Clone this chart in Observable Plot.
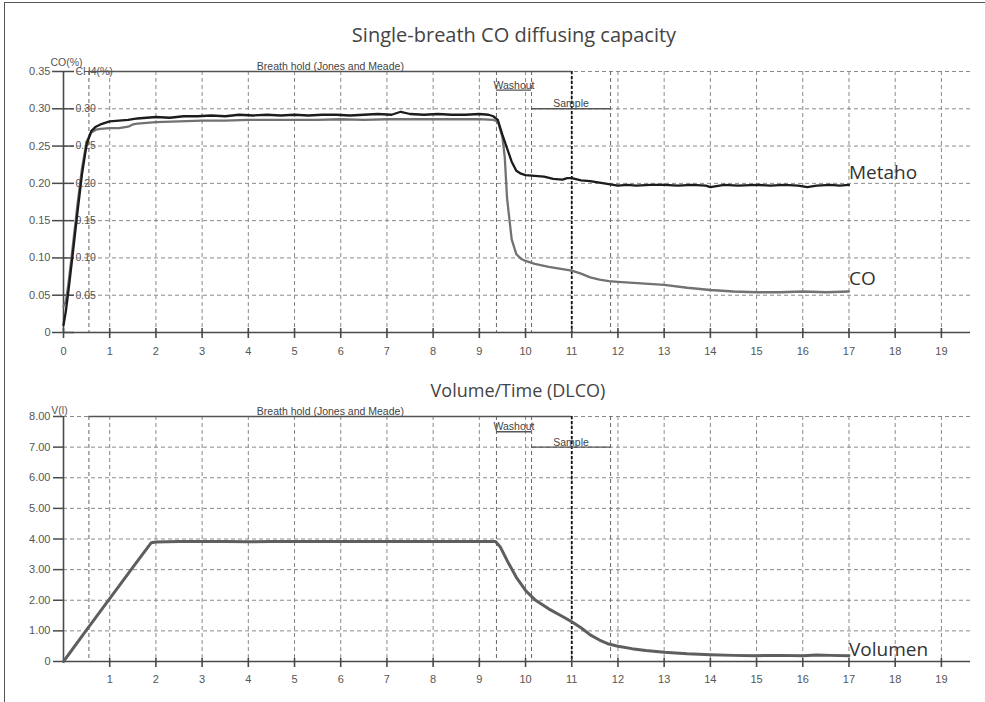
<!DOCTYPE html>
<html>
<head>
<meta charset="utf-8">
<script src="https://cdn.jsdelivr.net/npm/d3@7"></script>
<script src="https://cdn.jsdelivr.net/npm/@observablehq/plot@0.6"></script>
<style>
  html, body { margin: 0; padding: 0; background: #fff; }
  body { width: 985px; height: 702px; overflow: hidden; position: relative; font-family: "Liberation Sans", Arial, sans-serif; }
  #frame { position: absolute; left: 4px; top: 2px; width: 1000px; height: 720px; border-left: 1.5px solid #555; border-top: 1.5px solid #555; }
  .title { position: absolute; transform: translateX(-50%); white-space: nowrap; font-family: "Open Sans", sans-serif; color: #444; }
  #t1 { left: 514px; top: 25px; font-size: 20px; line-height: 20px; }
  #t2 { left: 518px; top: 381px; font-size: 18px; line-height: 18px; }
  #top { position: absolute; left: 0; top: 50px; }
  #bottom { position: absolute; left: 0; top: 400px; }
  svg { overflow: visible; }
</style>
</head>
<body>
<div id="frame"></div>
<div class="title" id="t1">Single-breath CO diffusing capacity</div>
<div class="title" id="t2">Volume/Time (DLCO)</div>
<div id="top"></div>
<div id="bottom"></div>
<script>
// ---- tick values and labels ----
const xTicksTop = [0,1,2,3,4,5,6,7,8,9,10,11,12,13,14,15,16,17,18,19];
const xTicksBottom = [1,2,3,4,5,6,7,8,9,10,11,12,13,14,15,16,17,18,19];
const xGrid = [1,2,3,4,5,6,7,8,9,10,11,12,13,14,15,16,17,18,19];
const coTicks = [0,0.05,0.10,0.15,0.20,0.25,0.30,0.35];
const coTickLabels = ["0","0.05","0.10","0.15","0.20","0.25","0.30","0.35"];
const ch4Ticks = [0.05,0.10,0.15,0.20,0.25,0.30,0.35];
const ch4TickLabels = ["0.05","0.10","0.15","0.20","0.25","0.30","CH4(%)"];
const volTicks = [0,1,2,3,4,5,6,7,8];
const volTickLabels = ["0","1.00","2.00","3.00","4.00","5.00","6.00","7.00","8.00"];

// ---- manoeuvre phases (seconds) ----
const phaseNames = ["Breath hold (Jones and Meade)", "Washout", "Sample"];
const phaseStart = [0.55, 9.37, 10.13];
const phaseEnd = [11.0, 10.13, 11.84];
const phaseLevelTop = [0.35, 0.325, 0.30];
const phaseLevelBottom = [8.0, 7.5, 7.0];
const markerLines = [0.55, 9.37, 10.13, 11.84];
const markerMain = [11.0];

// ---- series: methane (CH4 %) ----
const metT = [0,0.05,0.1,0.2,0.3,0.4,0.5,0.6,0.7,0.8,0.9,1.0,1.2,1.4,1.6,1.8,2.0,2.3,2.6,2.9,3.2,3.5,3.8,4.1,4.4,4.7,5.0,5.3,5.6,5.9,6.2,6.5,6.8,7.1,7.3,7.5,7.8,8.1,8.4,8.7,9.0,9.2,9.3,9.4,9.5,9.6,9.7,9.8,9.9,10.0,10.2,10.4,10.6,10.8,10.9,11.0,11.2,11.4,11.6,11.8,12.0,12.2,12.4,12.7,13.0,13.3,13.6,13.9,14.0,14.3,14.6,15.0,15.3,15.6,15.9,16.1,16.3,16.6,16.8,17.0];
const metV = [0.010,0.028,0.052,0.105,0.160,0.212,0.252,0.270,0.276,0.279,0.281,0.283,0.284,0.285,0.287,0.288,0.289,0.288,0.290,0.290,0.291,0.290,0.292,0.291,0.292,0.291,0.292,0.291,0.292,0.292,0.291,0.292,0.293,0.292,0.296,0.293,0.292,0.293,0.292,0.292,0.293,0.292,0.290,0.285,0.265,0.247,0.229,0.217,0.213,0.211,0.210,0.209,0.206,0.205,0.207,0.207,0.204,0.203,0.201,0.199,0.197,0.198,0.197,0.198,0.198,0.197,0.198,0.197,0.195,0.198,0.197,0.198,0.197,0.198,0.197,0.195,0.197,0.198,0.197,0.198];

// ---- series: CO % ----
const coT = [0,0.05,0.1,0.2,0.3,0.4,0.5,0.6,0.7,0.8,1.0,1.2,1.4,1.5,1.6,1.8,2.0,2.5,3.0,3.5,4.0,4.5,5.0,5.5,6.0,6.5,7.0,7.5,8.0,8.5,9.0,9.3,9.4,9.5,9.55,9.6,9.7,9.8,9.9,10.0,10.2,10.5,10.8,11.0,11.2,11.4,11.6,11.8,12.0,12.5,13.0,13.5,14.0,14.5,15.0,15.5,16.0,16.5,17.0];
const coV = [0.035,0.042,0.062,0.115,0.170,0.220,0.256,0.268,0.272,0.273,0.274,0.274,0.276,0.279,0.280,0.281,0.282,0.283,0.284,0.284,0.285,0.285,0.285,0.285,0.286,0.285,0.286,0.286,0.286,0.286,0.286,0.285,0.283,0.262,0.235,0.180,0.125,0.105,0.099,0.096,0.092,0.088,0.085,0.083,0.079,0.074,0.071,0.069,0.068,0.066,0.064,0.060,0.057,0.055,0.054,0.054,0.055,0.054,0.055];

// ---- series: volume (l) ----
const volT = [0,0.5,1.0,1.5,1.9,2.0,2.5,3.0,3.5,4.0,4.5,5.0,6.0,7.0,8.0,9.0,9.35,9.45,9.6,9.8,10.0,10.2,10.5,10.8,11.0,11.2,11.4,11.6,11.8,12.0,12.3,12.6,13.0,13.5,14.0,14.5,15.0,15.5,16.0,16.3,16.6,17.0];
const volV = [0,1.03,2.05,3.07,3.88,3.9,3.92,3.92,3.92,3.91,3.92,3.92,3.92,3.92,3.92,3.92,3.92,3.75,3.3,2.75,2.32,2.02,1.72,1.47,1.3,1.1,0.87,0.7,0.57,0.5,0.42,0.36,0.3,0.25,0.22,0.2,0.19,0.2,0.19,0.21,0.2,0.19];

const seriesNames = ["Metaho", "CO", "Volumen"];

// ---- tables built from the arrays ----
const metData = metT.map((t, i) => ({t, v: metV[i]}));
const coData = coT.map((t, i) => ({t, v: coV[i]}));
const volData = volT.map((t, i) => ({t, v: volV[i]}));
const phasesTop = phaseNames.map((name, i) => ({name, a: phaseStart[i], b: phaseEnd[i], lev: phaseLevelTop[i]}));
const phasesBottom = phaseNames.map((name, i) => ({name, a: phaseStart[i], b: phaseEnd[i], lev: phaseLevelBottom[i]}));
const ch4Labels = ch4Ticks.map((v, i) => ({v, label: ch4TickLabels[i]}));

const gridStyle = {stroke: "#8a8a8a", strokeWidth: 1, strokeDasharray: "4,3"};
const axisColor = "#4a4a4a";
const labelFill = "#555";
const xMax = 19.63;

function phaseMarks(phases) {
  return [
    Plot.ruleY(phases, {y: "lev", x1: "a", x2: "b", stroke: "#555", strokeWidth: 1.4}),
    Plot.text(phases, {x: d => (d.a + d.b) / 2, y: "lev", text: "name", lineAnchor: "bottom", dy: -1.5,
      fontSize: 10.5, fill: "#444", fontFamily: "Liberation Sans, Arial, sans-serif"})
  ];
}

function endLabel(data, name, dy) {
  const last = data[data.length - 1];
  return Plot.text([{t: last.t, v: last.v, name}], {x: "t", y: "v", text: "name", textAnchor: "start",
    lineAnchor: "bottom", dx: 0, dy, fontSize: 19, fill: "#333", fontFamily: "Open Sans, sans-serif"});
}

// ---- top chart ----
const topPlot = Plot.plot({
  width: 985, height: 315,
  marginLeft: 63, marginRight: 15, marginTop: 21, marginBottom: 33,
  x: {domain: [0, xMax]},
  y: {domain: [0, 0.35]},
  style: {fontFamily: "Liberation Sans, Arial, sans-serif", fontSize: "11px", color: "#555", background: "transparent"},
  marks: [
    Plot.ruleY(coTicks.slice(1), gridStyle),
    Plot.ruleX(xGrid, gridStyle),
    Plot.ruleX(markerLines, {stroke: "#666", strokeWidth: 1, strokeDasharray: "4,3"}),
    Plot.ruleX(markerMain, {stroke: "#111", strokeWidth: 1.8, strokeDasharray: "3,2"}),
    ...phaseMarks(phasesTop),
    Plot.ruleX([0], {stroke: axisColor, strokeWidth: 1.6}),
    Plot.ruleY([0], {stroke: axisColor, strokeWidth: 1.6}),
    Plot.axisX(xTicksTop, {tickSize: 10, dy: -4, fill: "none", stroke: axisColor, strokeWidth: 1.6}),
    Plot.axisX(xTicksTop, {tickSize: 0, tickPadding: 15, fill: labelFill, fontSize: 11}),
    Plot.axisY(coTicks, {tickSize: 22, dx: 11, fill: "none", stroke: axisColor, strokeWidth: 1.5}),
    Plot.axisY(coTicks, {tickSize: 0, tickPadding: 13, fill: labelFill, fontSize: 11, label: null,
      tickFormat: d => coTickLabels[coTicks.indexOf(d)]}),
    Plot.text(ch4Labels, {y: "v", text: "label", frameAnchor: "left", dx: 12, textAnchor: "start", fill: labelFill, fontSize: 10.5}),
    Plot.text(["CO(%)"], {frameAnchor: "top-left", dx: 3, dy: -13, textAnchor: "middle", fill: labelFill, fontSize: 10.5}),
    Plot.line(coData, {x: "t", y: "v", stroke: "#727272", strokeWidth: 2.3}),
    Plot.line(metData, {x: "t", y: "v", stroke: "#1c1c1c", strokeWidth: 2.3}),
    endLabel(metData, seriesNames[0], -6),
    endLabel(coData, seriesNames[1], -6)
  ]
});
document.getElementById("top").append(topPlot);

// ---- bottom chart ----
const bottomPlot = Plot.plot({
  width: 985, height: 300,
  marginLeft: 63, marginRight: 15, marginTop: 16, marginBottom: 39,
  x: {domain: [0, xMax]},
  y: {domain: [0, 8]},
  style: {fontFamily: "Liberation Sans, Arial, sans-serif", fontSize: "11px", color: "#555", background: "transparent"},
  marks: [
    Plot.ruleY(volTicks.slice(1), gridStyle),
    Plot.ruleX(xGrid, gridStyle),
    Plot.ruleX(markerLines, {stroke: "#666", strokeWidth: 1, strokeDasharray: "4,3"}),
    Plot.ruleX(markerMain, {stroke: "#111", strokeWidth: 1.8, strokeDasharray: "3,2"}),
    ...phaseMarks(phasesBottom),
    Plot.ruleX([0], {stroke: axisColor, strokeWidth: 1.6}),
    Plot.ruleY([0], {stroke: axisColor, strokeWidth: 1.6}),
    Plot.axisX(xTicksBottom, {tickSize: 9, dy: -3, fill: "none", stroke: axisColor, strokeWidth: 1.6}),
    Plot.axisX(xTicksBottom, {tickSize: 0, tickPadding: 14, fill: labelFill, fontSize: 11}),
    Plot.axisY(volTicks, {tickSize: 10, fill: "none", stroke: axisColor, strokeWidth: 1.5}),
    Plot.axisY(volTicks, {tickSize: 0, tickPadding: 13, fill: labelFill, fontSize: 11, label: null,
      tickFormat: d => volTickLabels[volTicks.indexOf(d)]}),
    Plot.text(["V(l)"], {frameAnchor: "top-left", dx: -4, dy: -10, textAnchor: "middle", fill: labelFill, fontSize: 10.5}),
    Plot.line(volData, {x: "t", y: "v", stroke: "#5e5e5e", strokeWidth: 3}),
    endLabel(volData, seriesNames[2], 0)
  ]
});
document.getElementById("bottom").append(bottomPlot);
</script>
</body>
</html>
